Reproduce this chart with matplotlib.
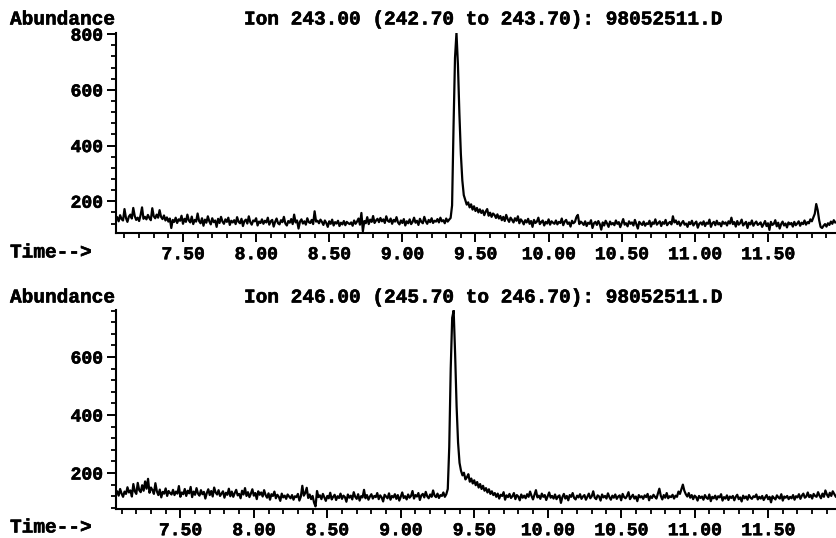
import matplotlib
matplotlib.use("Agg")
import matplotlib.pyplot as plt
import matplotlib.patheffects as pe
import numpy as np
from matplotlib.ticker import MultipleLocator, FormatStrFormatter

# Extracted ion chromatograms, run 98052511.D (one scan every 0.01 min from 7.05 min)
SCAN_START = 7.05
SCAN_STEP = 0.01

ion_243 = [
    142, 128, 150, 136, 131, 172, 140, 126, 145, 152, 138, 176, 147, 133, 141, 129, 150, 178, 137, 144,
    135, 151, 140, 132, 175, 146, 139, 152, 141, 168, 144, 136, 149, 131, 142, 127, 138, 104, 133, 126,
    141, 122, 135, 130, 148, 119, 137, 126, 152, 131, 124, 145, 118, 133, 127, 156, 129, 121, 139, 112,
    134, 123, 146, 128, 117, 139, 125, 131, 108, 137, 122, 144, 127, 119, 135, 126, 141, 115, 130, 124,
    132, 118, 143, 126, 121, 137, 111, 129, 134, 120, 146, 125, 116, 131, 128, 139, 113, 127, 122, 135,
    119, 130, 124, 141, 116, 128, 133, 109, 126, 138, 121, 117, 132, 125, 144, 120, 113, 129, 123, 136,
    118, 152, 124, 131, 102, 127, 135, 120, 128, 116, 139, 125, 122, 133, 118, 164, 127, 130, 121, 134,
    126, 115, 131, 122, 108, 128, 119, 134, 113, 125, 120, 130, 111, 123, 117, 129, 114, 126, 121, 118,
    124, 112, 131, 119, 127, 138, 116, 158, 92, 129, 121, 143, 118, 134, 126, 147, 122, 131, 137, 125,
    140, 128, 135, 122, 146, 130, 126, 138, 119, 133, 127, 143, 124, 117, 131, 122, 136, 113, 128, 121,
    135, 118, 126, 141, 123, 130, 115, 137, 126, 121, 144, 128, 119, 133, 125, 139, 122, 130, 127, 136,
    124, 141, 128, 132, 121, 138, 127, 134, 140, 185, 470, 715, 805, 690, 515, 370, 275, 222, 205, 188,
    196, 178, 189, 170, 182, 165, 176, 160, 171, 158, 167, 150, 163, 172, 148, 159, 144, 156, 151, 140,
    153, 138, 147, 132, 144, 129, 151, 136, 126, 141, 133, 124, 139, 130, 146, 121, 135, 128, 117, 132,
    124, 137, 119, 129, 108, 133, 122, 127, 141, 118, 125, 131, 113, 126, 120, 135, 116, 128, 123, 119,
    131, 117, 126, 122, 138, 114, 127, 133, 119, 124, 109, 130, 121, 126, 143, 151, 118, 127, 122, 115,
    128, 111, 123, 119, 132, 104, 121, 126, 115, 129, 118, 98, 124, 113, 130, 120, 108, 127, 117, 122,
    114, 131, 119, 125, 107, 122, 136, 116, 121, 110, 128, 119, 124, 113, 133, 118, 102, 126, 120, 115,
    127, 112, 121, 118, 130, 109, 124, 119, 135, 116, 122, 128, 111, 125, 119, 133, 114, 121, 126, 117,
    146, 124, 131, 118, 127, 112, 122, 129, 116, 120, 108, 125, 118, 130, 113, 121, 127, 105, 119, 124,
    116, 128, 111, 123, 119, 134, 108, 121, 126, 114, 130, 117, 122, 110, 127, 119, 124, 113, 128, 120,
    141, 118, 125, 109, 129, 116, 122, 134, 113, 120, 126, 104, 123, 117, 131, 112, 121, 127, 115, 119,
    124, 108, 118, 129, 111, 121, 97, 126, 115, 119, 132, 110, 123, 102, 118, 127, 113, 120, 106, 124,
    117, 122, 109, 126, 114, 120, 128, 112, 123, 118, 131, 116, 125, 121, 135, 128, 142, 155, 190, 168,
    132, 108, 104, 112, 118, 109, 121, 115, 127, 119, 132, 124,
]

ion_246 = [
    141, 132, 137, 122, 145, 129, 118, 136, 128, 151, 133, 140, 119, 162, 137, 128, 166, 141, 134, 158,
    139, 171, 146, 180, 132, 150, 141, 128, 165, 137, 124, 143, 116, 135, 129, 147, 121, 138, 131, 126,
    142, 124, 136, 129, 155, 118, 133, 127, 145, 121, 139, 130, 152, 117, 136, 125, 148, 129, 122, 141,
    127, 135, 112, 131, 144, 124, 138, 119, 150, 133, 126, 141, 121, 129, 137, 115, 132, 125, 146, 120,
    136, 118, 131, 142, 123, 128, 113, 139, 126, 148, 121, 134, 117, 129, 144, 122, 131, 110, 137, 125,
    133, 119, 141, 124, 115, 130, 108, 127, 121, 136, 113, 125, 118, 104, 129, 116, 122, 111, 126, 119,
    113, 124, 108, 120, 117, 128, 105, 119, 156, 122, 131, 149, 114, 126, 110, 121, 98, 85, 138, 117,
    123, 110, 128, 116, 104, 121, 113, 132, 109, 118, 125, 107, 120, 114, 129, 111, 122, 117, 101, 126,
    115, 122, 109, 134, 118, 111, 127, 105, 120, 116, 142, 113, 124, 108, 119, 127, 112, 121, 117, 131,
    110, 123, 116, 102, 125, 119, 113, 130, 108, 121, 116, 127, 111, 124, 105, 118, 133, 114, 120, 109,
    126, 115, 121, 138, 112, 124, 119, 131, 107, 123, 128, 116, 135, 120, 113, 126, 118, 140, 122, 117,
    129, 114, 124, 121, 133, 118, 127, 145, 290, 560, 735, 760, 610, 430, 305, 235, 208, 192, 201, 178,
    185, 196, 170, 181, 164, 175, 158, 169, 150, 162, 145, 156, 139, 148, 133, 144, 128, 137, 124, 131,
    118, 129, 112, 125, 121, 134, 108, 123, 117, 128, 114, 120, 131, 110, 124, 119, 106, 126, 115, 122,
    113, 127, 118, 136, 121, 109, 125, 141, 116, 122, 111, 129, 118, 124, 107, 120, 133, 115, 121, 112,
    126, 110, 119, 123, 97, 117, 128, 112, 121, 106, 124, 118, 131, 114, 109, 122, 116, 127, 111, 119,
    124, 108, 118, 129, 113, 120, 137, 115, 110, 123, 119, 105, 126, 116, 121, 112, 130, 117, 108, 122,
    115, 126, 111, 119, 123, 106, 128, 117, 113, 121, 134, 110, 118, 125, 112, 119, 103, 124, 116, 120,
    111, 123, 117, 128, 106, 120, 114, 125, 118, 112, 129, 146, 121, 109, 124, 115, 131, 113, 120, 117,
    125, 112, 122, 118, 136, 128, 144, 160, 139, 127, 119, 131, 115, 124, 110, 122, 117, 105, 121, 114,
    119, 108, 124, 115, 111, 126, 103, 118, 113, 122, 109, 120, 116, 127, 105, 117, 112, 123, 107, 119,
    114, 121, 106, 118, 125, 110, 116, 102, 122, 113, 119, 108, 124, 115, 111, 120, 117, 126, 109, 118,
    112, 121, 107, 116, 124, 110, 118, 99, 120, 114, 109, 123, 116, 112, 127, 105, 119, 115, 121, 110,
    118, 113, 124, 108, 120, 116, 127, 111, 122, 129, 115, 119, 133, 117, 124, 112, 128, 121, 118, 134,
    122, 113, 129, 118, 140, 126, 117, 132, 121, 137, 128, 119,
]

titles = [
    "Ion 243.00 (242.70 to 243.70): 98052511.D",
    "Ion 246.00 (245.70 to 246.70): 98052511.D",
]

# slightly heavier typewriter-style lettering
BOLD = [pe.withStroke(linewidth=0.4, foreground="black")]
FONT = dict(family="Liberation Mono", weight="bold", size=14, path_effects=BOLD)
W, H = 837, 538


def px(x, y):
    """Pixel position (from top-left) to figure fraction."""
    return x / W, 1 - y / H


def setup_axis(ax, xlim, ylim):
    ax.set_xlim(*xlim)
    ax.set_ylim(*ylim)
    for side in ("top", "right"):
        ax.spines[side].set_visible(False)
    for side in ("left", "bottom"):
        ax.spines[side].set_linewidth(1.5)
    ax.xaxis.set_major_locator(MultipleLocator(0.5))
    ax.xaxis.set_minor_locator(MultipleLocator(0.1))
    ax.xaxis.set_major_formatter(FormatStrFormatter("%.2f"))
    ax.yaxis.set_major_locator(MultipleLocator(200))
    ax.yaxis.set_minor_locator(MultipleLocator(40))
    ax.yaxis.set_major_formatter(FormatStrFormatter("%d"))
    ax.tick_params(which="major", length=6.5, width=1.4, pad=3, direction="out")
    ax.tick_params(which="minor", length=3.5, width=1.3, direction="out")
    for lab in ax.get_xticklabels() + ax.get_yticklabels():
        lab.set_fontfamily("Liberation Mono")
        lab.set_fontweight("bold")
        lab.set_fontsize(13)
        lab.set_path_effects(BOLD)


fig = plt.figure(figsize=(W / 100, H / 100), dpi=100)

panels = [
    # trace, title, axes rect, x-limits, y-limits, y of the header row, y of time label
    (ion_243, titles[0], [0.1386, 0.5669, 0.8614, 0.3717], (7.042, 11.972), (86, 804), 20, 253),
    (ion_246, titles[1], [0.1386, 0.0539, 0.8614, 0.3699], (7.062, 11.969), (76, 762), 298, 528),
]

for trace, title, rect, xlim, ylim, head_y, time_y in panels:
    ax = fig.add_axes(rect)
    times = SCAN_START + SCAN_STEP * np.arange(len(trace))
    ax.plot(times, trace, color="black", linewidth=1.6)
    setup_axis(ax, xlim, ylim)

    fig.text(*px(10, head_y), "Abundance", ha="left", va="center", **FONT)
    fig.text(*px(244, head_y), title, ha="left", va="center", **FONT)
    fig.text(*px(10, time_y), "Time-->", ha="left", va="center", **FONT)

fig.savefig("out.png", dpi=100, facecolor="white")
